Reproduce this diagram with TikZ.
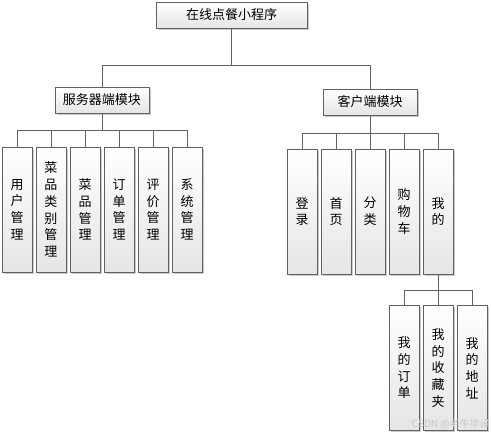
\documentclass[tikz,border=0pt]{standalone}
\usepackage{fontspec}
\setmainfont{Noto Sans CJK SC}
\usetikzlibrary{shadows}
\begin{document}
\begin{tikzpicture}[x=1pt,y=-1pt,
  base/.style={draw=black!62, line width=0.8pt, top color=white, bottom color=black!10,
     drop shadow={shadow xshift=2pt, shadow yshift=-2pt, fill=black!35, opacity=0.6}, inner sep=0pt},
  hbox/.style={base, minimum height=26pt, font=\fontsize{13}{16}\selectfont},
  vbox/.style={base, minimum width=30pt, minimum height=125pt, text width=14pt, align=center,
     font=\fontsize{13}{16.7}\selectfont},
  conn/.style={draw=black!62, line width=0.9pt}]
\useasboundingbox (0,0) rectangle (491,435);
% nodes
\node[hbox, minimum width=151pt] (root) at (231.5,15) {在线点餐小程序};
\node[hbox, minimum width=94pt] (server) at (102,100) {服务器端模块};
\node[hbox, minimum width=94pt] (client) at (370,102) {客户端模块};
\node[vbox] (s1) at (17,209.5) {用\\户\\管\\理};
\node[vbox] (s2) at (51,209.5) {菜\\品\\类\\别\\管\\理};
\node[vbox] (s3) at (85,209.5) {菜\\品\\管\\理};
\node[vbox] (s4) at (119,209.5) {订\\单\\管\\理};
\node[vbox] (s5) at (153,209.5) {评\\价\\管\\理};
\node[vbox] (s6) at (187,209.5) {系\\统\\管\\理};
\node[vbox] (c1) at (302,211.5) {登\\录};
\node[vbox] (c2) at (336,211.5) {首\\页};
\node[vbox] (c3) at (370,211.5) {分\\类};
\node[vbox] (c4) at (404,211.5) {购\\物\\车};
\node[vbox] (c5) at (438,211.5) {我\\的};
\node[vbox] (m1) at (404,368) {我\\的\\订\\单};
\node[vbox] (m2) at (438,368) {我\\的\\收\\藏\\夹};
\node[vbox] (m3) at (472,368) {我\\的\\地\\址};
% junctions
\coordinate (j0) at (231.5,65);
\coordinate (js) at (102,130);
\coordinate (jc) at (370,133);
\coordinate (jm) at (438,290);
% connectors
\draw[conn] (root.south) -- (j0) -| (server.north);
\draw[conn] (j0) -| (client.north);
\draw[conn] (server.south) -- (js);
\foreach \n in {s1,s2,s3,s4,s5,s6} \draw[conn] (js) -| (\n.north);
\draw[conn] (client.south) -- (jc);
\foreach \n in {c1,c2,c3,c4,c5} \draw[conn] (jc) -| (\n.north);
\draw[conn] (c5.south) -- (jm);
\foreach \n in {m1,m2,m3} \draw[conn] (jm) -| (\n.north);
% watermark
\node[anchor=east, text=black!22, font=\fontsize{10}{12}\selectfont, inner sep=0pt] (wm) at (490,424) {CSDN @老牛毕设};
\end{tikzpicture}
\end{document}
